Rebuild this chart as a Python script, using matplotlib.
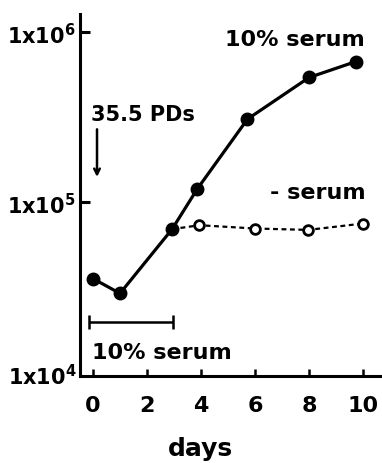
import numpy as np
import matplotlib
matplotlib.use('Agg')
import matplotlib.pyplot as plt

# cell counts over time (log scale)
days_serum = [0, 1, 2.93, 3.86, 5.72, 8.0, 9.74]
cells_serum = [3.57e4, 2.92e4, 6.97e4, 1.2e5, 3.09e5, 5.43e5, 6.74e5]

# serum withdrawn at day 3: line starts from the day-3 point
days_noserum = [2.93, 3.94, 6.0, 7.97, 10.0]
cells_noserum = [6.97e4, 7.35e4, 7.03e4, 6.9e4, 7.52e4]

xticks = [0, 2, 4, 6, 8, 10]
yticks = [1e4, 1e5, 1e6]
ytick_labels = ['1x10$^4$', '1x10$^5$', '1x10$^6$']

plt.rcParams['font.family'] = 'DejaVu Sans'
plt.rcParams['font.weight'] = 'bold'
plt.rcParams['mathtext.default'] = 'bf'

fig = plt.figure(figsize=(3.82, 4.64), dpi=100)
ax = fig.add_axes([0.2094, 0.1875, 0.7906, 0.7802])

ax.plot(days_serum, cells_serum, color='black', lw=2.3, marker='o',
        markersize=9, zorder=3)
ax.plot(days_noserum, cells_noserum, color='black', lw=1.6,
        linestyle=(0, (2.2, 1.6)), marker='o', markersize=7,
        markerfacecolor='white', markeredgewidth=2.0,
        markevery=slice(1, None), zorder=2)

ax.set_yscale('log')
ax.set_xlim(-0.48, 10.7)
ax.set_ylim(10 ** 3.98, 10 ** 6.108)

for side in ('top', 'right'):
    ax.spines[side].set_visible(False)
for side in ('left', 'bottom'):
    ax.spines[side].set_linewidth(2.2)

ax.set_xticks(xticks)
ax.set_xticklabels([str(t) for t in xticks], fontsize=16, fontweight='bold')
ax.set_yticks(yticks[1:])
ax.set_yticklabels(ytick_labels[1:], fontsize=15)
ax.yaxis.set_minor_locator(matplotlib.ticker.NullLocator())
ax.tick_params(axis='y', direction='in', length=7, width=2.2, pad=3)
ax.tick_params(axis='x', direction='in', length=5, width=1.8, pad=14)
ax.text(-0.6, 10 ** 3.98, ytick_labels[0], ha='right', va='center', fontsize=15)

ax.set_xlabel('days', fontsize=18, fontweight='bold')
ax.xaxis.set_label_coords(0.40, -0.165)

ax.text(10.05, 10 ** 5.96, '10% serum', ha='right', va='center', fontsize=16)
ax.text(10.1, 10 ** 5.06, '- serum', ha='right', va='center', fontsize=16)

ax.text(-0.07, 10 ** 5.52, '35.5 PDs', ha='left', va='center', fontsize=15)
ax.annotate('', xy=(0.15, 10 ** 5.15), xytext=(0.15, 10 ** 5.43),
            arrowprops=dict(arrowstyle='->', color='black', lw=1.8,
                            shrinkA=0, shrinkB=0))

# bar marking the period in 10% serum
ax.errorbar([1.4], [10 ** 4.296], xerr=[[1.55], [1.55]], color='black',
            lw=1.8, capsize=5, capthick=1.8)
ax.text(-0.04, 10 ** 4.12, '10% serum', ha='left', va='center', fontsize=16)

fig.savefig('out.png', dpi=100)
